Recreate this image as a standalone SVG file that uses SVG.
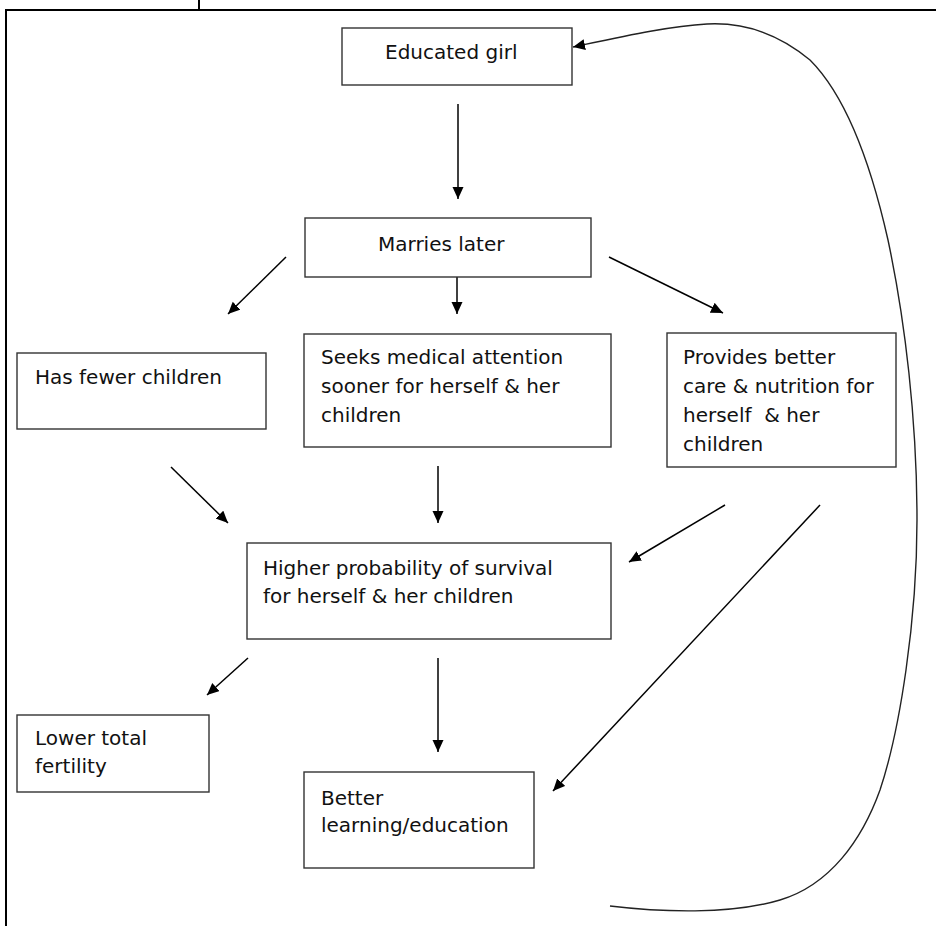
<svg xmlns="http://www.w3.org/2000/svg" width="936" height="926" viewBox="0 0 936 926">
<style>
.frame{stroke:#000;stroke-width:2;fill:none}
.box{fill:#fff;stroke:#333;stroke-width:1.4}
.lbl{font-family:"DejaVu Sans","Verdana",sans-serif;font-size:20px;fill:#111;white-space:pre}
.con{stroke:#000;stroke-width:1.5;fill:none;marker-end:url(#ah)}
.curve{stroke:#222;stroke-width:1.4;fill:none;marker-end:url(#ah)}
</style>
<defs>
<marker id="ah" markerUnits="userSpaceOnUse" markerWidth="14" markerHeight="12" refX="12" refY="5.5" orient="auto">
<path d="M0,0 L12,5.5 L0,11 z" fill="#000"/>
</marker>
</defs>
<rect width="936" height="926" fill="#fff"/>
<g id="frame">
<line class="frame" x1="6" y1="10" x2="936" y2="10"/>
<line class="frame" x1="199" y1="0" x2="199" y2="10"/>
<line class="frame" x1="6" y1="9" x2="6" y2="926"/>
</g>
<g id="connectors">
<line class="con" x1="458" y1="104" x2="458" y2="199"/>
<line class="con" x1="286" y1="257" x2="228" y2="314"/>
<line class="con" x1="457" y1="277" x2="457" y2="314"/>
<line class="con" x1="609" y1="257" x2="723" y2="313"/>
<line class="con" x1="171" y1="467" x2="228" y2="523"/>
<line class="con" x1="438" y1="466" x2="438" y2="523"/>
<line class="con" x1="725" y1="505" x2="629" y2="562"/>
<line class="con" x1="820" y1="505" x2="553" y2="791"/>
<line class="con" x1="248" y1="658" x2="207" y2="695"/>
<line class="con" x1="438" y1="658" x2="438" y2="752"/>
<path class="curve" d="M610,906 C660,912 730,915 780,900 C830,885 862,840 880,790 C900,730 917,620 917,520 C917,420 905,320 888,240 C870,160 845,95 810,60 C780,35 745,22 707,24 C670,26 625,36 573,47"/>
</g>
<g id="educated-girl">
<rect class="box" x="342" y="28" width="230" height="57"/>
<text class="lbl" x="385" y="59">Educated girl</text>
</g>
<g id="marries-later">
<rect class="box" x="305" y="218" width="286" height="59"/>
<text class="lbl" x="378" y="251">Marries later</text>
</g>
<g id="fewer-children">
<rect class="box" x="17" y="353" width="249" height="76"/>
<text class="lbl" x="35" y="384">Has fewer children</text>
</g>
<g id="seeks-medical">
<rect class="box" x="304" y="334" width="307" height="113"/>
<text class="lbl" x="321" y="364">Seeks medical attention</text>
<text class="lbl" x="321" y="393">sooner for herself &amp; her</text>
<text class="lbl" x="321" y="422">children</text>
</g>
<g id="provides-care">
<rect class="box" x="667" y="333" width="229" height="134"/>
<text class="lbl" x="683" y="364">Provides better</text>
<text class="lbl" x="683" y="393">care &amp; nutrition for</text>
<text class="lbl" x="683" y="422">herself  &amp; her</text>
<text class="lbl" x="683" y="451">children</text>
</g>
<g id="higher-survival">
<rect class="box" x="247" y="543" width="364" height="96"/>
<text class="lbl" x="263" y="575">Higher probability of survival</text>
<text class="lbl" x="263" y="603">for herself &amp; her children</text>
</g>
<g id="lower-fertility">
<rect class="box" x="17" y="715" width="192" height="77"/>
<text class="lbl" x="35" y="745">Lower total</text>
<text class="lbl" x="35" y="773">fertility</text>
</g>
<g id="better-learning">
<rect class="box" x="304" y="772" width="230" height="96"/>
<text class="lbl" x="321" y="805">Better</text>
<text class="lbl" x="321" y="832">learning/education</text>
</g>
</svg>
